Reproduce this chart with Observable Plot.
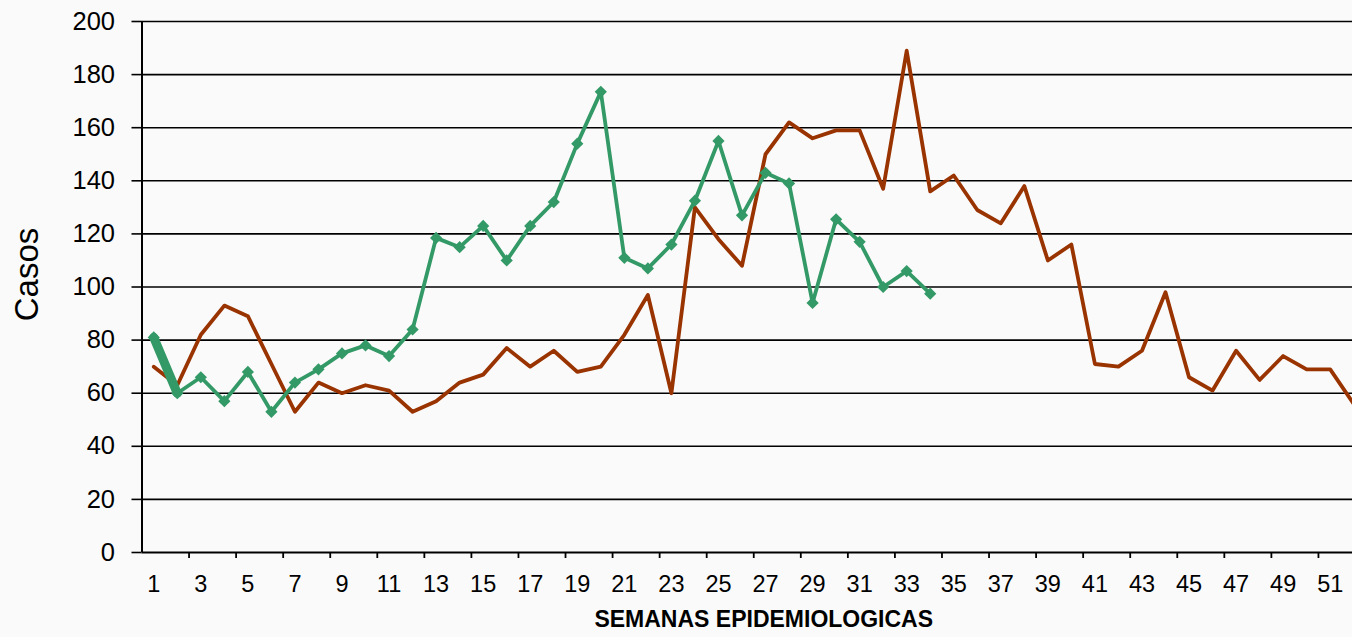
<!DOCTYPE html>
<html><head><meta charset="utf-8">
<script src="https://cdn.jsdelivr.net/npm/d3@7"></script>
<script src="https://cdn.jsdelivr.net/npm/@observablehq/plot@0.6"></script>
<style>
html,body{margin:0;padding:0;background:#fafafa;overflow:hidden;}
#chart{width:1352px;height:637px;overflow:hidden;}
#chart svg{max-width:none !important;}
</style></head><body><div id="chart"></div>
<script>
const semanas = [1,2,3,4,5,6,7,8,9,10,11,12,13,14,15,16,17,18,19,20,21,22,23,24,25,26,
  27,28,29,30,31,32,33,34,35,36,37,38,39,40,41,42,43,44,45,46,47,48,49,50,51,52];
const casosAnterior = [70,63,82,93,89,71,53,64,60,63,61,53,57,64,67,77,70,76,68,70,
  82,97,60,130,118,108,150,162,156,159,159,137,189,136,142,129,124,138,110,116,
  71,70,76,98,66,61,76,65,74,69,69,56];
const casosActual = [81,60,66,57,68,53,64,69,75,78,74,84,118.5,115,123,110,123,132,154,173.5,
  111,107,116,132.5,155,127,143,139,94,125.5,117,100,106,97.5];
const yTicks = [0,20,40,60,80,100,120,140,160,180,200];
const xLabels = [1,3,5,7,9,11,13,15,17,19,21,23,25,27,29,31,33,35,37,39,41,43,45,47,49,51];
const xTitle = "SEMANAS EPIDEMIOLOGICAS";
const yTitle = "Casos";

const dataA = semanas.map((s, i) => ({semana: s, casos: casosAnterior[i]}));
const dataB = casosActual.map((c, i) => ({semana: semanas[i], casos: c}));
const xBounds = semanas.filter(w => w % 2 === 0).map(w => w + 0.5);

const chart = Plot.plot({
  width: 1365, height: 637,
  marginLeft: 141.5, marginRight: 0, marginTop: 21, marginBottom: 85,
  style: {background: "transparent", fontFamily: "'Liberation Sans', Arial, sans-serif", color: "#000", overflow: "visible", maxWidth: "none"},
  x: {domain: [0.5, 52.5], axis: null},
  y: {domain: [0, 200], axis: null},
  marks: [
    Plot.gridY(yTicks.slice(1), {stroke: "#000", strokeOpacity: 1, strokeWidth: 1.6}),
    Plot.axisY({ticks: yTicks, tickSize: 10, tickPadding: 17, fontSize: 25.5, strokeWidth: 1.6, tickFormat: d => String(d), label: null}),
    Plot.axisX({ticks: xBounds, tickSize: 6, strokeWidth: 1.8, tickFormat: () => "", label: null}),
    Plot.axisX({ticks: xLabels, tickSize: 0, tickPadding: 22.5, fontSize: 23.5, tickFormat: d => String(d), label: null}),
    Plot.ruleX([0.5], {stroke: "#000", strokeWidth: 2}),
    Plot.ruleY([0], {stroke: "#000", strokeWidth: 2}),
    Plot.line(dataA, {x: "semana", y: "casos", stroke: "#993300", strokeWidth: 3.8}),
    Plot.line(dataB.slice(0, 2), {x: "semana", y: "casos", stroke: "#339966", strokeWidth: 9}),
    Plot.line(dataB, {x: "semana", y: "casos", stroke: "#339966", strokeWidth: 3.8}),
    Plot.dot(dataB, {x: "semana", y: "casos", fill: "#339966", symbol: "diamond2", r: 5.5}),
    Plot.text([xTitle], {frameAnchor: "bottom", dy: 74, dx: 10, fontSize: 23, fontWeight: "bold", fill: "#000"}),
    Plot.text([yTitle], {frameAnchor: "left", textAnchor: "middle", rotate: -90, dx: -115, dy: -12.5, fontSize: 33, fill: "#000"})
  ]
});
document.getElementById("chart").appendChild(chart);
</script></body></html>
